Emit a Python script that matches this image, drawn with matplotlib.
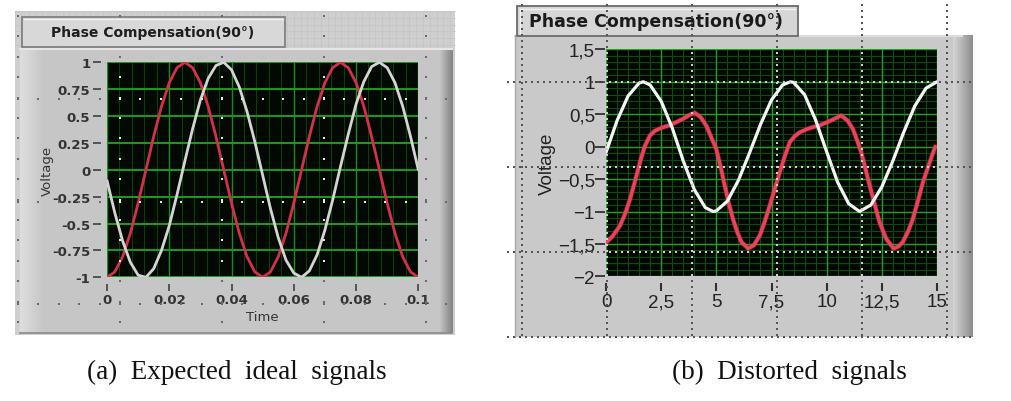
import numpy as np
import matplotlib
matplotlib.use("Agg")
import matplotlib.pyplot as plt
from matplotlib.patches import Rectangle
from matplotlib.ticker import FixedLocator, FixedFormatter

# ---------------- data ----------------
# (a) expected ideal signals
time_a = [0.0, 0.0025, 0.005, 0.0075, 0.01, 0.0125, 0.015, 0.0175, 0.02, 0.0225,
          0.025, 0.0275, 0.03, 0.0325, 0.035, 0.0375, 0.04, 0.0425, 0.045, 0.0475,
          0.05, 0.0525, 0.055, 0.0575, 0.06, 0.0625, 0.065, 0.0675, 0.07, 0.0725,
          0.075, 0.0775, 0.08, 0.0825, 0.085, 0.0875, 0.09, 0.0925, 0.095, 0.0975, 0.1]
red_a = [-1.0, -0.95, -0.81, -0.59, -0.31, 0.0, 0.31, 0.59, 0.81, 0.95,
         1.0, 0.95, 0.81, 0.59, 0.31, 0.0, -0.31, -0.59, -0.81, -0.95,
         -1.0, -0.95, -0.81, -0.59, -0.31, 0.0, 0.31, 0.59, 0.81, 0.95,
         1.0, 0.95, 0.81, 0.59, 0.31, 0.0, -0.31, -0.59, -0.81, -0.95, -1.0]
white_a = [-0.10, -0.40, -0.66, -0.86, -0.98, -1.0, -0.92, -0.75, -0.52, -0.23,
           0.08, 0.38, 0.65, 0.85, 0.97, 1.0, 0.93, 0.77, 0.54, 0.26,
           -0.05, -0.36, -0.63, -0.84, -0.96, -1.0, -0.94, -0.79, -0.56, -0.28,
           0.03, 0.33, 0.61, 0.82, 0.96, 1.0, 0.95, 0.81, 0.59, 0.31, 0.0]
yticks_a = [1, 0.75, 0.5, 0.25, 0, -0.25, -0.5, -0.75, -1]
ylabels_a = ["1", "0.75", "0.5", "0.25", "0", "-0.25", "-0.5", "-0.75", "-1"]
xticks_a = [0, 0.02, 0.04, 0.06, 0.08, 0.1]
xlabels_a = ["0", "0.02", "0.04", "0.06", "0.08", "0.1"]

# (b) distorted signals
x_white_b = [0, 0.5, 1.0, 1.5, 1.69, 2.0, 2.5, 3.0, 3.5, 4.0, 4.5, 4.86, 5.0, 5.5, 6.0,
             6.5, 7.0, 7.5, 8.0, 8.36, 8.5, 9.0, 9.5, 10.0, 10.5, 11.0, 11.49, 12.0,
             12.5, 13.0, 13.5, 14.0, 14.5, 15.0]
white_b = [-0.09, 0.40, 0.78, 0.98, 1.0, 0.95, 0.70, 0.29, -0.22, -0.66, -0.94, -1.0,
           -0.99, -0.84, -0.52, -0.10, 0.34, 0.72, 0.95, 1.0, 0.99, 0.80, 0.41, -0.08,
           -0.55, -0.88, -1.0, -0.90, -0.62, -0.22, 0.23, 0.63, 0.90, 1.0]
x_red_b = [0, 0.3, 0.63, 0.85, 1.09, 1.3, 1.54, 1.75, 1.99, 2.2, 2.44, 2.7, 2.9, 3.2,
           3.5, 3.8, 4.03, 4.3, 4.55, 4.8, 5.0, 5.2, 5.38, 5.57, 5.76, 5.95, 6.14, 6.44,
           6.7, 6.97, 7.2, 7.42, 7.65, 7.87, 8.1, 8.33, 8.55, 8.78, 9.1, 9.38, 9.7, 9.98,
           10.3, 10.66, 10.95, 11.19, 11.4, 11.57, 11.75, 11.95, 12.2, 12.4, 12.7, 13.03,
           13.25, 13.45, 13.7, 13.9, 14.15, 14.36, 14.65, 14.92]
red_b = [-1.48, -1.38, -1.22, -1.05, -0.81, -0.55, -0.24, 0.0, 0.17, 0.24, 0.28, 0.31,
         0.33, 0.38, 0.43, 0.49, 0.52, 0.45, 0.32, 0.12, -0.04, -0.32, -0.60, -0.88,
         -1.12, -1.32, -1.47, -1.57, -1.52, -1.37, -1.15, -0.91, -0.65, -0.40, -0.15,
         0.07, 0.16, 0.22, 0.27, 0.30, 0.33, 0.37, 0.42, 0.48, 0.40, 0.27, 0.08, -0.09,
         -0.33, -0.60, -0.92, -1.17, -1.42, -1.57, -1.54, -1.47, -1.30, -1.12, -0.82,
         -0.55, -0.26, 0.0]
yticks_b = [1.5, 1, 0.5, 0, -0.5, -1, -1.5, -2]
ylabels_b = ["1,5", "1", "0,5", "0", "\u22120,5", "\u22121", "\u22121,5", "\u22122"]
xticks_b = [0, 2.5, 5, 7.5, 10, 12.5, 15]
xlabels_b = ["0", "2,5", "5", "7,5", "10", "12,5", "15"]

title_text = "Phase Compensation(90\u00b0)"
caption_a = "(a)  Expected  ideal  signals"
caption_b = "(b)  Distorted  signals"

# ---------------- layout helpers ----------------
W, H = 1011, 402
fig = plt.figure(figsize=(W / 100, H / 100), dpi=100)
fig.patch.set_facecolor("white")


def frac(x0, y0, x1, y1):
    return [x0 / W, 1 - y1 / H, (x1 - x0) / W, (y1 - y0) / H]


bg = fig.add_axes([0, 0, 1, 1], zorder=0)
bg.set_xlim(0, W)
bg.set_ylim(H, 0)
bg.axis("off")


def rect(ax, x0, y0, x1, y1, fc, ec="none", lw=0, z=1):
    ax.add_patch(Rectangle((x0, y0), x1 - x0, y1 - y0, facecolor=fc,
                           edgecolor=ec, linewidth=lw, zorder=z))


def hgrad(ax, x0, y0, x1, y1, c0, c1, z=2):
    g = np.linspace(0, 1, 64)[None, :, None]
    c0 = np.array(c0)[None, None, :] / 255.0
    c1 = np.array(c1)[None, None, :] / 255.0
    img = c0 * (1 - g) + c1 * g
    ax.imshow(img, extent=(x0, x1, y1, y0), aspect="auto", zorder=z,
              interpolation="bilinear")


# ---------------- panel (a) background ----------------
rect(bg, 15, 12, 455, 336, "#cfcfcf", z=1)
for gx in np.arange(15, 455, 6.8):
    bg.plot([gx, gx], [12, 50], color="#c4c4c4", lw=0.5, zorder=1.5)
for gy in np.arange(12, 50, 6.8):
    bg.plot([15, 455], [gy, gy], color="#c4c4c4", lw=0.5, zorder=1.5)
rect(bg, 20, 49, 452, 334, "#c6c6c6", z=2)
hgrad(bg, 20, 50, 44, 334, (222, 222, 222), (198, 198, 198), z=2.2)
hgrad(bg, 440, 50, 453, 334, (196, 196, 196), (130, 130, 130), z=2.2)
bg.plot([20, 452], [50, 50], color="#e6e6e6", lw=1.5, zorder=2.5)
bg.plot([20, 452], [334, 334], color="#8a8a8a", lw=1.2, zorder=2.5)
# title box (a)
rect(bg, 22, 18, 285, 48, "#d8d8d8", ec="#7a7a7a", lw=1.2, z=3)
bg.plot([24, 283], [20, 20], color="#f0f0f0", lw=1, zorder=3.1)
bg.text(153, 33, title_text, fontsize=10, fontweight="bold", color="#1e1e1e",
        ha="center", va="center", family="DejaVu Sans", zorder=4)

# ---------------- panel (b) background ----------------
rect(bg, 515, 36, 972, 338, "#c9c9c9", z=1)
hgrad(bg, 953, 36, 973, 338, (214, 214, 214), (140, 140, 140), z=2)
bg.plot([515, 962], [37, 37], color="#dcdcdc", lw=1.5, zorder=2.5)
bg.plot([515, 515], [36, 338], color="#a8a8a8", lw=1, zorder=2.5)
rect(bg, 517, 7, 798, 37, "#d6d6d6", ec="#6a6a6a", lw=1.3, z=3)
bg.plot([520, 795], [10, 10], color="#f2f2f2", lw=1, zorder=3.1)
bg.plot([520, 520], [10, 34], color="#f2f2f2", lw=1, zorder=3.1)
bg.text(656, 22, title_text, fontsize=12.5, fontweight="bold", color="#1a1a1a",
        ha="center", va="center", family="DejaVu Sans", zorder=4)

# captions
bg.text(237, 372, caption_a, fontsize=19.5, family="Liberation Serif",
        ha="center", va="center", color="#111111")
bg.text(789, 372, caption_b, fontsize=19.5, family="Liberation Serif",
        ha="center", va="center", color="#111111")

# ---------------- plot (a) ----------------
axa = fig.add_axes(frac(107, 63.3, 418.3, 278.3), zorder=2)
axa.set_facecolor("#020902")
axa.set_xlim(0, 0.1)
axa.set_ylim(-1, 1)
for v in np.arange(0, 0.1001, 0.004):
    axa.axvline(v, color="#0a3f0a", lw=0.8, zorder=0.5)
for v in xticks_a:
    axa.axvline(v, color="#1f8a1f", lw=1.0, zorder=0.6)
for v in yticks_a:
    axa.axhline(v, color="#1d9a1d", lw=1.4, zorder=0.6)
axa.plot(time_a, red_a, color="#d43048", lw=2.0, zorder=3, solid_capstyle="round")
axa.plot(time_a, white_a, color="#d4d4d4", lw=2.0, zorder=3, solid_capstyle="round")
axa.xaxis.set_major_locator(FixedLocator(xticks_a))
axa.xaxis.set_major_formatter(FixedFormatter(xlabels_a))
axa.yaxis.set_major_locator(FixedLocator(yticks_a))
axa.yaxis.set_major_formatter(FixedFormatter(ylabels_a))
for s in ["top", "right", "left", "bottom"]:
    axa.spines[s].set_visible(False)
axa.spines["left"].set_position(("outward", 4))
axa.spines["bottom"].set_position(("outward", 5))
axa.tick_params(axis="y", length=6, width=1.3, color="#4a4a4a", pad=2,
                labelsize=9.5, labelcolor="#333333")
axa.tick_params(axis="x", length=5, width=1.3, color="#4a4a4a", pad=1.5,
                labelsize=9.5, labelcolor="#333333")
for lab in axa.get_xticklabels() + axa.get_yticklabels():
    lab.set_fontweight("bold")
axa.set_xlabel("Time", fontsize=9.5, color="#333333", labelpad=3)
axa.set_ylabel("Voltage", fontsize=9.5, color="#333333")
axa.yaxis.set_label_coords((54 - 107) / 311.3, 0.5)

# ---------------- plot (b) ----------------
axb = fig.add_axes(frac(606, 50.3, 937, 277.4), zorder=2)
axb.set_facecolor("#010701")
axb.set_xlim(0, 15)
axb.set_ylim(-2, 1.5)
for v in np.arange(0, 15.01, 0.5):
    axb.axvline(v, color="#0d4a0d", lw=0.8, zorder=0.5)
for v in np.arange(-2, 1.51, 0.1):
    axb.axhline(v, color="#0d4a0d", lw=0.8, zorder=0.5)
for v in xticks_b:
    axb.axvline(v, color="#2a9a2a", lw=1.0, zorder=0.6)
for v in yticks_b:
    axb.axhline(v, color="#2a9a2a", lw=1.0, zorder=0.6)
axb.plot(x_red_b, red_b, color="#e0304a", lw=3.8, alpha=0.35, zorder=3)
axb.plot(x_red_b, red_b, color="#ea4258", lw=2.6, zorder=3.1,
         solid_joinstyle="round", solid_capstyle="round")
axb.plot(x_white_b, white_b, color="#f6f6f6", lw=2.3, zorder=3.2,
         solid_joinstyle="round", solid_capstyle="round")
axb.xaxis.set_major_locator(FixedLocator(xticks_b))
axb.xaxis.set_major_formatter(FixedFormatter(xlabels_b))
axb.yaxis.set_major_locator(FixedLocator(yticks_b))
axb.yaxis.set_major_formatter(FixedFormatter(ylabels_b))
for s in ["top", "right", "left", "bottom"]:
    axb.spines[s].set_visible(False)
axb.spines["left"].set_position(("outward", 1))
axb.spines["bottom"].set_position(("outward", 5))
sans = ["Liberation Sans", "DejaVu Sans"]
axb.tick_params(axis="y", length=7, width=1.3, color="#303030", pad=0,
                labelsize=13.5, labelcolor="#222222")
axb.tick_params(axis="x", length=6, width=1.5, color="#303030", pad=1,
                labelsize=13.5, labelcolor="#222222")
for lab in axb.get_xticklabels() + axb.get_yticklabels():
    lab.set_family(sans)
axb.set_ylabel("Voltage", fontsize=13.5, color="#222222", family=sans)
axb.yaxis.set_label_coords((556 - 606) / 331.0, 0.5)

# ---------------- overlay: editor grid dots ----------------
ov = fig.add_axes([0, 0, 1, 1], zorder=5)
ov.set_xlim(0, W)
ov.set_ylim(H, 0)
ov.axis("off")
ov.patch.set_alpha(0)


def inside(px, py, box):
    return box[0] <= px <= box[2] and box[1] <= py <= box[3]


# left panel dots
plot_a = (107, 63, 418, 278)
title_a = (22, 18, 285, 48)
pts_in, pts_out = [], []
for cx in [18, 120, 222, 324, 426]:
    for py in np.arange(17, 336, 20.4):
        pts_in.append((cx, py)) if inside(cx, py, plot_a) else pts_out.append((cx, py))
for ry in [100, 202.5, 305]:
    for px in np.arange(18, 455, 20.4):
        pts_in.append((px, ry)) if inside(px, ry, plot_a) else pts_out.append((px, ry))
pts_out = [p for p in pts_out if not inside(p[0], p[1], title_a)]
ov.scatter([p[0] for p in pts_in], [p[1] for p in pts_in], s=3, c="#e8e8e8",
           marker="s", linewidths=0)
ov.scatter([p[0] for p in pts_out], [p[1] for p in pts_out], s=3, c="#6a6a6a",
           marker="s", linewidths=0)

# right panel dotted selection grid
plot_b = (606, 50, 937, 277)
din, dout = [], []
for vx in [522, 607, 692, 777, 862, 947]:
    for py in np.arange(0, 341, 6):
        din.append((vx, py)) if inside(vx, py, plot_b) else dout.append((vx, py))
for hy in [83, 168, 253, 338]:
    for px in np.arange(508, 976, 6):
        din.append((px, hy)) if inside(px, hy, plot_b) else dout.append((px, hy))
ov.scatter([p[0] for p in din], [p[1] for p in din], s=1.1, c="#cfcfcf",
           marker="s", linewidths=0)
ov.scatter([p[0] for p in dout], [p[1] for p in dout], s=1.1, c="#555555",
           marker="s", linewidths=0)

fig.savefig("out.png", dpi=100, facecolor="white")
